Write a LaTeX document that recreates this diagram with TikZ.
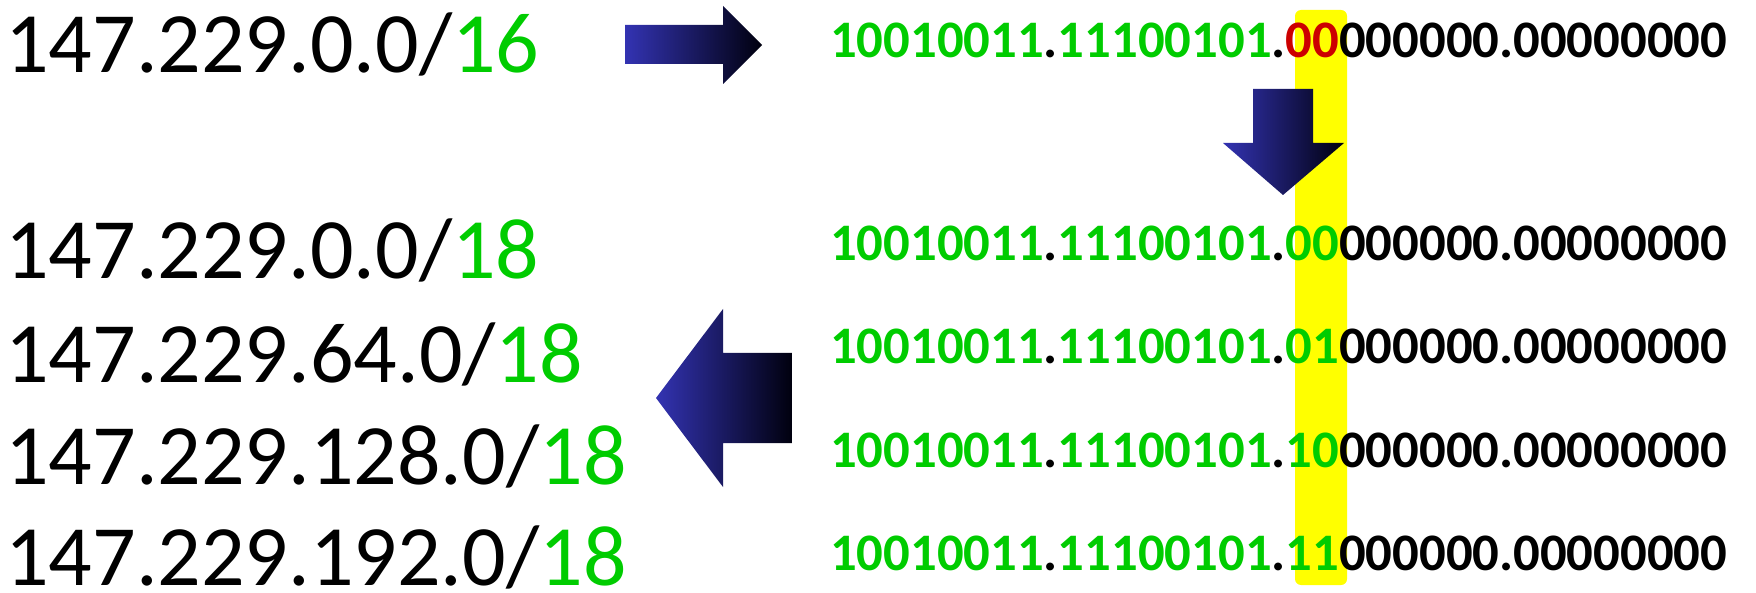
\documentclass[tikz,border=0pt]{standalone}
\usepackage{fontspec}
\setmainfont{Carlito}
\definecolor{ipgreen}{RGB}{0,204,0}
\definecolor{ipred}{RGB}{204,0,0}
\definecolor{hlyellow}{RGB}{255,255,0}
\definecolor{arrowblue}{RGB}{51,51,178}
\definecolor{arrowdark}{RGB}{0,0,14}
\begin{document}
\begin{tikzpicture}[x=1pt,y=-1pt,
  cidr/.style={anchor=base west, inner sep=0pt, font=\fontsize{86}{86}\selectfont},
  bin/.style={anchor=base west, inner sep=0pt, font=\bfseries\fontsize{52.7}{52.7}\selectfont},
  blockarrow/.style={left color=arrowblue, right color=arrowdark},
  highlight/.style={fill=hlyellow, rounded corners=6pt}]
\useasboundingbox (0,0) rectangle (1756,593);
% yellow highlight column
\fill[highlight] (1295,10) rectangle (1347,585);
% left column
\node[cidr] (n16) at (5,73) {147.229.0.0/\textcolor{ipgreen}{16}};
\node[cidr] (a18) at (5,279) {147.229.0.0/\textcolor{ipgreen}{18}};
\node[cidr] (b18) at (5,382) {147.229.64.0/\textcolor{ipgreen}{18}};
\node[cidr] (c18) at (5,484) {147.229.128.0/\textcolor{ipgreen}{18}};
\node[cidr] (d18) at (5,585) {147.229.192.0/\textcolor{ipgreen}{18}};
% right column
\node[bin] (b0) at (830,58) {\textcolor{ipgreen}{10010011}.\textcolor{ipgreen}{11100101}.\textcolor{ipred}{00}000000.00000000};
\node[bin] (b1) at (830,261) {\textcolor{ipgreen}{10010011}.\textcolor{ipgreen}{11100101}.\textcolor{ipgreen}{00}000000.00000000};
\node[bin] (b2) at (830,364) {\textcolor{ipgreen}{10010011}.\textcolor{ipgreen}{11100101}.\textcolor{ipgreen}{01}000000.00000000};
\node[bin] (b3) at (830,467) {\textcolor{ipgreen}{10010011}.\textcolor{ipgreen}{11100101}.\textcolor{ipgreen}{10}000000.00000000};
\node[bin] (b4) at (830,570) {\textcolor{ipgreen}{10010011}.\textcolor{ipgreen}{11100101}.\textcolor{ipgreen}{11}000000.00000000};
% right-pointing block arrow
\shade[blockarrow] (625,25) -- (723,25) -- (723,6) -- (762,45) -- (723,84) -- (723,64) -- (625,64) -- cycle;
% down-pointing block arrow
\shade[blockarrow] (1253,89) -- (1313,89) -- (1313,143) -- (1344,143) -- (1283,195) -- (1223,143) -- (1253,143) -- cycle;
% left-pointing block arrow
\shade[blockarrow] (656,398) -- (723,309) -- (723,353) -- (792,353) -- (792,443) -- (723,443) -- (723,487) -- cycle;
\end{tikzpicture}
\end{document}
